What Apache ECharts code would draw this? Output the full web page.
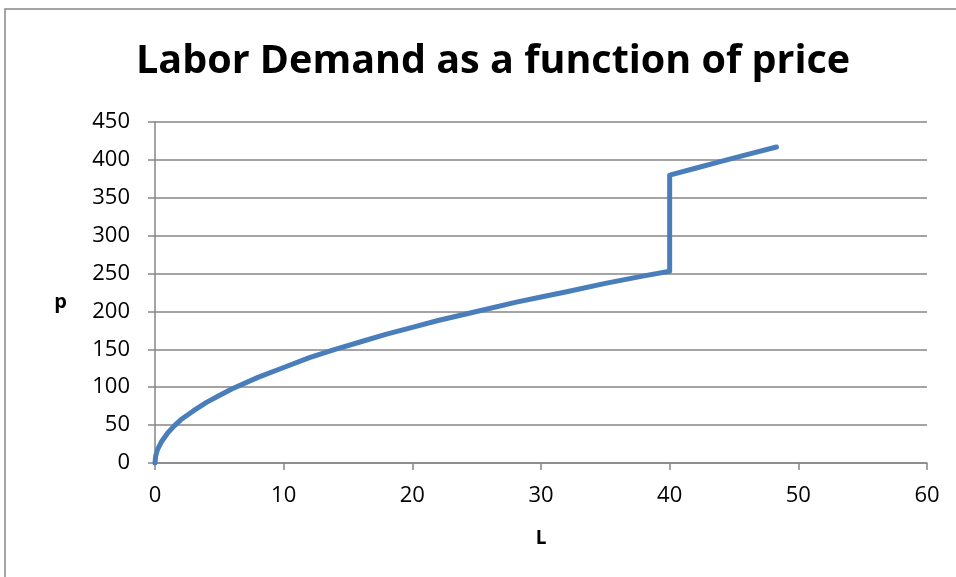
<!DOCTYPE html>
<html><head><meta charset="utf-8">
<script src="https://cdn.jsdelivr.net/npm/echarts@6/dist/echarts.min.js"></script>
<style>html,body{margin:0;padding:0;background:#fff}#c{width:956px;height:577px}</style>
</head><body><div id="c"></div>
<script>
const titleText = 'Labor Demand as a function of price';
const xName = 'L';
const yName = 'p';
const laborL = [0, 0.05, 0.2, 0.5, 1, 1.5, 2, 3, 4, 5, 6, 8, 10, 12, 14, 16, 18, 20, 22, 25, 28, 30, 32, 35, 38, 40, 40, 42, 44, 46, 48.3];
const priceP = [0, 9, 18, 28, 40, 49, 57, 69, 80, 89, 98, 113, 126, 139, 150, 160, 170, 179, 188, 200, 212, 219, 226, 237, 247, 253, 380, 389, 398, 407, 417];
const xTicks = {min: 0, max: 60, interval: 10};
const yTicks = {min: 0, max: 450, interval: 50};

const chart = echarts.init(document.getElementById('c'), null, {renderer: 'canvas'});
const gray = '#868686';
const font = 'Open Sans, Liberation Sans, sans-serif';
chart.setOption({
  animation: false,
  backgroundColor: '#fff',
  title: {text: titleText, left: 131, top: 37, textStyle: {fontFamily: font, fontWeight: 'bold', fontSize: 39.5, color: '#000'}},
  graphic: [{type: 'rect', shape: {x: 5, y: 9, width: 1000, height: 600}, style: {fill: 'none', stroke: gray, lineWidth: 1.5}, silent: true, z: -1}],
  grid: {left: 155, right: 29, top: 122, bottom: 114},
  xAxis: {
    type: 'value', min: xTicks.min, max: xTicks.max, interval: xTicks.interval,
    name: xName, nameLocation: 'middle', nameGap: 66,
    nameTextStyle: {fontFamily: font, fontWeight: 'bold', fontSize: 19, color: '#000'},
    axisLine: {show: true, lineStyle: {color: gray, width: 1.5}},
    axisTick: {show: true, length: 7, lineStyle: {color: gray, width: 1.5}},
    axisLabel: {margin: 22, fontFamily: font, fontSize: 22, color: '#000'},
    splitLine: {show: false}
  },
  yAxis: {
    type: 'value', min: yTicks.min, max: yTicks.max, interval: yTicks.interval,
    name: yName, nameLocation: 'middle', nameGap: 88, nameRotate: 0,
    nameTextStyle: {fontFamily: font, fontWeight: 'bold', fontSize: 20, color: '#000', verticalAlign: 'top'},
    axisLine: {show: true, lineStyle: {color: gray, width: 1.5}},
    axisTick: {show: true, length: 7, lineStyle: {color: gray, width: 1.5}},
    axisLabel: {margin: 25, fontFamily: font, fontSize: 22, color: '#000'},
    splitLine: {show: true, lineStyle: {color: gray, width: 1.5}}
  },
  series: [{
    type: 'line', data: laborL.map((l, i) => [l, priceP[i]]),
    showSymbol: false, smooth: false,
    lineStyle: {color: '#4a7ebb', width: 5, cap: 'round', join: 'round'}
  }]
});
</script></body></html>
